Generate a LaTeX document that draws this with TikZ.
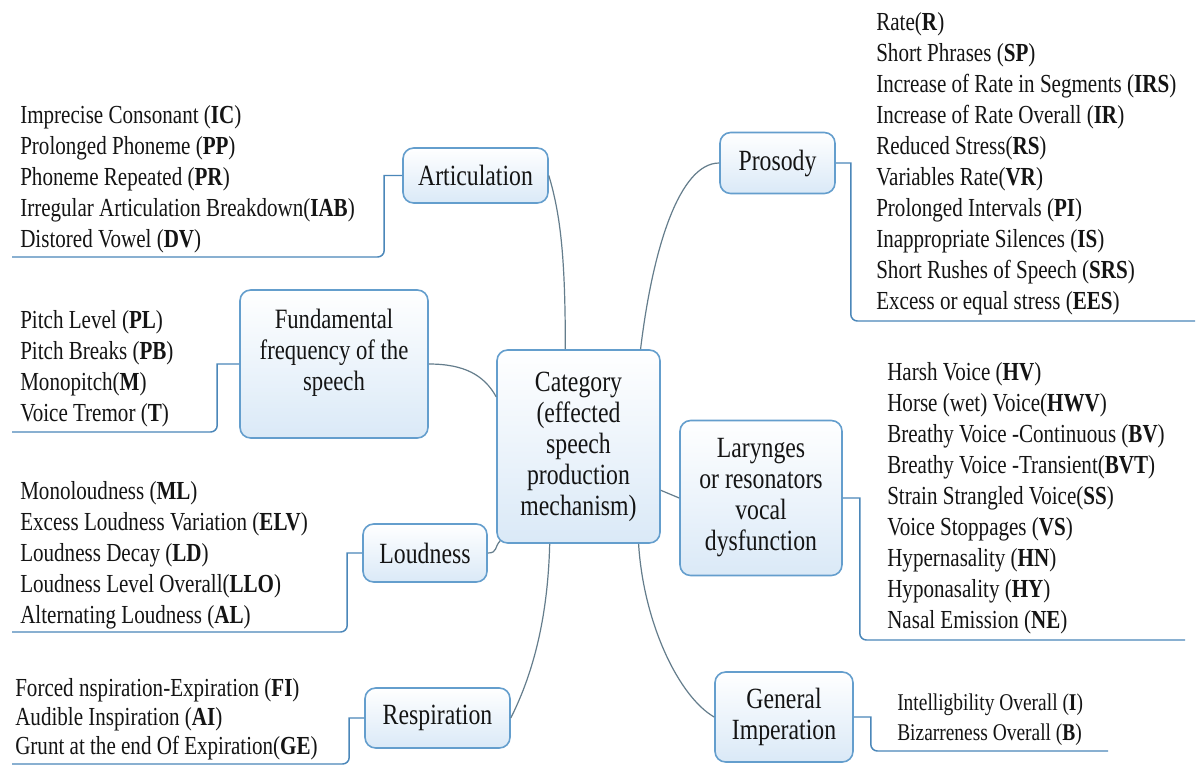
\documentclass[tikz,border=0pt]{standalone}
\usepackage{fontspec}
\setmainfont{Liberation Serif}[FakeStretch=0.81]
\usetikzlibrary{calc}

\definecolor{boxline}{RGB}{100,158,205}
\definecolor{boxfill}{RGB}{218,233,247}
\definecolor{bracketline}{RGB}{75,135,185}
\definecolor{linkline}{RGB}{100,125,140}
\definecolor{ink}{RGB}{20,20,20}

\begin{document}
\begin{tikzpicture}[x=0.75pt,y=-0.75pt,
  catbox/.style={draw=boxline, line width=1.2pt, rounded corners=8pt,
    top color=white, bottom color=boxfill, inner sep=0pt, align=center,
    text=ink, font=\fontsize{22}{23.25}\selectfont},
  boxlabel/.style={align=center, inner sep=0pt, text=ink,
    font=\fontsize{21}{23.25}\selectfont},
  listtext/.style={anchor=west, align=left, inner sep=0pt, text=ink,
    font=\fontsize{19.5}{23.25}\selectfont},
  bracket/.style={draw=bracketline, line width=1.1pt},
  link/.style={draw=linkline, line width=0.9pt}]

\fill[white] (0,0) rectangle (1200,765);
\useasboundingbox (0,0) rectangle (1200,765);

% central category box
\node[catbox, minimum width=163*0.75pt, minimum height=193*0.75pt] (cat) at (578.5,446.5)
  {Category\\(effected\\speech\\production\\mechanism)};

% branch boxes
\node[catbox, minimum width=145*0.75pt, minimum height=55*0.75pt] (artbox) at (475.5,175.5) {Articulation};
\node[catbox, minimum width=188*0.75pt, minimum height=148*0.75pt] (fundbox) at (334,364) {};
\node[boxlabel] (fundtext) at (334,353) {Fundamental\\frequency of the\\speech};
\node[catbox, minimum width=124*0.75pt, minimum height=58*0.75pt] (loudbox) at (425,553) {Loudness};
\node[catbox, minimum width=145*0.75pt, minimum height=60*0.75pt] (resbox) at (437.5,718) {Respiration};
\node[catbox, minimum width=115*0.75pt, minimum height=61*0.75pt] (probox) at (777.5,163) {Prosody};
\node[catbox, minimum width=162*0.75pt, minimum height=155*0.75pt] (larbox) at (761,498)
  {Larynges\\or resonators\\vocal\\dysfunction};
\node[catbox, minimum width=138*0.75pt, minimum height=90*0.75pt] (genbox) at (784,717)
  {General\\Imperation};

% item lists
\node[listtext] (artlist) at (20,179) {Imprecise Consonant (\textbf{IC})\\
  Prolonged Phoneme (\textbf{PP})\\ Phoneme Repeated (\textbf{PR})\\
  Irregular Articulation Breakdown(\textbf{IAB})\\ Distored Vowel (\textbf{DV})};
\node[listtext] (fundlist) at (20,368.5) {Pitch Level (\textbf{PL})\\
  Pitch Breaks (\textbf{PB})\\ Monopitch(\textbf{M})\\ Voice Tremor (\textbf{T})};
\node[listtext] (loudlist) at (20,555) {Monoloudness (\textbf{ML})\\
  Excess Loudness Variation (\textbf{ELV})\\ Loudness Decay (\textbf{LD})\\
  Loudness Level Overall(\textbf{LLO})\\ Alternating Loudness (\textbf{AL})};
\node[listtext, font=\fontsize{19.5}{21.75}\selectfont] (reslist) at (15,719)
  {Forced nspiration-Expiration (\textbf{FI})\\ Audible Inspiration (\textbf{AI})\\
  Grunt at the end Of Expiration(\textbf{GE})};
\node[listtext] (prolist) at (876,164) {Rate(\textbf{R})\\ Short Phrases (\textbf{SP})\\
  Increase of Rate in Segments (\textbf{IRS})\\ Increase of Rate Overall (\textbf{IR})\\
  Reduced Stress(\textbf{RS})\\ Variables Rate(\textbf{VR})\\
  Prolonged Intervals (\textbf{PI})\\ Inappropriate Silences (\textbf{IS})\\
  Short Rushes of Speech (\textbf{SRS})\\ Excess or equal stress (\textbf{EES})};
\node[listtext] (larlist) at (887,498) {Harsh Voice (\textbf{HV})\\
  Horse (wet) Voice(\textbf{HWV})\\ Breathy Voice -Continuous (\textbf{BV})\\
  Breathy Voice -Transient(\textbf{BVT})\\ Strain Strangled Voice(\textbf{SS})\\
  Voice Stoppages (\textbf{VS})\\ Hypernasality (\textbf{HN})\\
  Hyponasality (\textbf{HY})\\ Nasal Emission (\textbf{NE})};
\node[listtext, font=\fontsize{18}{22.5}\selectfont] (genlist) at (897,720)
  {Intelligbility Overall (\textbf{I})\\ Bizarreness Overall (\textbf{B})};

% free ends of the underlines
\coordinate (artend) at (12,257);
\coordinate (fundend) at (12,432);
\coordinate (loudend) at (12,632);
\coordinate (resend) at (12,764);
\coordinate (proend) at (1195,321);
\coordinate (larend) at (1185,640);
\coordinate (genend) at (1108,751);

% brackets from each box to its list
\draw[bracket] (artbox.west) -- ++(-18,0) [rounded corners=5pt] |- (artend);
\draw[bracket] (fundbox.west) -- ++(-22,0) [rounded corners=5pt] |- (fundend);
\draw[bracket] (loudbox.west) -- ++(-15,0) [rounded corners=5pt] |- (loudend);
\draw[bracket] (resbox.west) -- ++(-15,0) [rounded corners=5pt] |- (resend);
\draw[bracket] (probox.east) -- ++(15,0) [rounded corners=5pt] |- (proend);
\draw[bracket] (larbox.east) -- ++(17,0) [rounded corners=5pt] |- (larend);
\draw[bracket] (genbox.east) -- ++(17,0) [rounded corners=5pt] |- (genend);

% curved links to the central box
\draw[link] (artbox.east) .. controls +(12,40) and +(0,-90) ..
  ($(cat.north west)!0.42!(cat.north east)$);
\draw[link] ($(cat.north west)!0.877!(cat.north east)$) .. controls +(12,-100) and +(-40,0) ..
  (probox.west);
\draw[link] (fundbox.east) .. controls +(35,0) and +(-12,-22) ..
  ($(cat.north west)!0.245!(cat.south west)$);
\draw[link] (loudbox.east) .. controls +(10,0) and +(-6,6) .. ($(cat.south west)+(4,-3)$);
\draw[link] ($(cat.south west)!0.325!(cat.south east)$) .. controls +(-2,80) and +(20,-40) ..
  (resbox.east);
\draw[link] ($(cat.south west)!0.865!(cat.south east)$) .. controls +(5,80) and +(-35,-20) ..
  (genbox.west);
\draw[link] ($(cat.north east)!0.725!(cat.south east)$) -- (larbox.west);

\end{tikzpicture}
\end{document}
